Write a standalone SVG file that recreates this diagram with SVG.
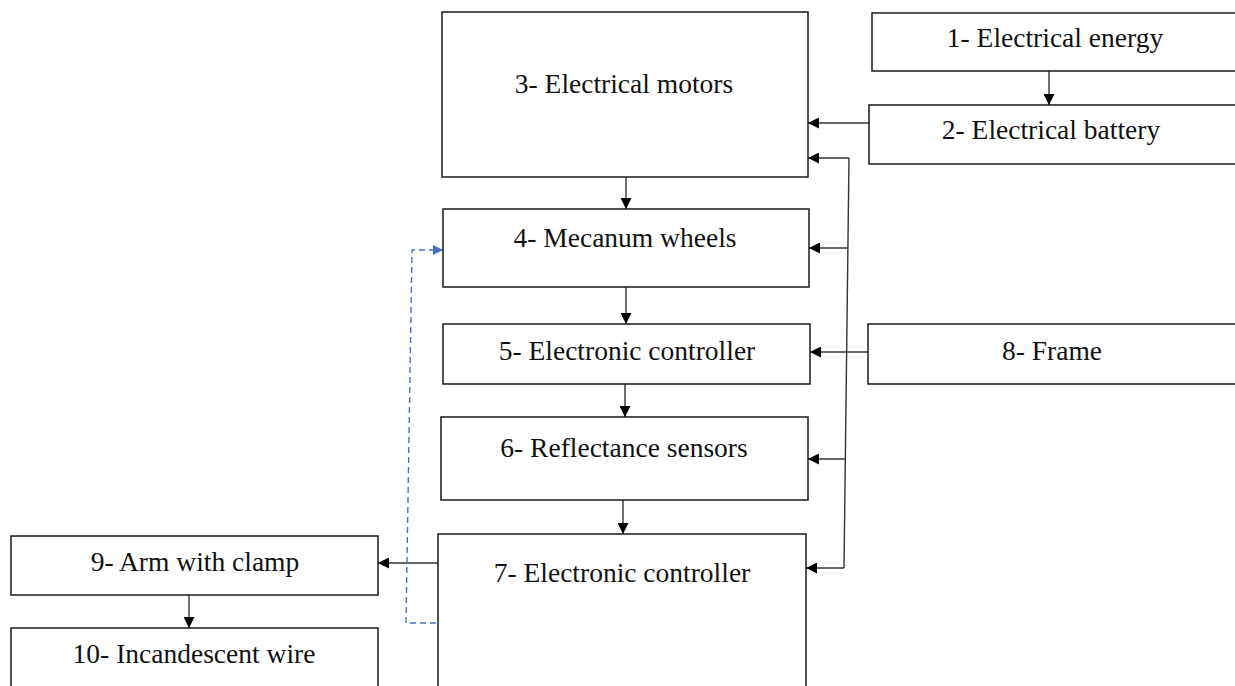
<svg xmlns="http://www.w3.org/2000/svg" width="1235" height="686" viewBox="0 0 1235 686">
<defs>
<style>
.box{fill:#fff;stroke:#1a1a1a;stroke-width:1.5}
.lbl{font-size:27.5px;fill:#111;text-anchor:middle}
.con{fill:none;stroke:#333;stroke-width:1.4}
.dash{fill:none;stroke:#4472C4;stroke-width:1.4;stroke-dasharray:6,4}
</style>
<marker id="ah" viewBox="0 0 10 10" refX="10" refY="5" markerWidth="12" markerHeight="11" markerUnits="userSpaceOnUse" orient="auto"><path d="M0,0 L10,5 L0,10 z" fill="#000"/></marker>
<marker id="ahb" viewBox="0 0 10 10" refX="10" refY="5" markerWidth="11" markerHeight="10" markerUnits="userSpaceOnUse" orient="auto"><path d="M0,0 L10,5 L0,10 z" fill="#4472C4"/></marker>
</defs>
<rect width="1235" height="686" fill="#fff"/>
<g id="connectors">
<line class="con" x1="1049" y1="71" x2="1049" y2="105" marker-end="url(#ah)"/>
<line class="con" x1="869" y1="123" x2="808" y2="123" marker-end="url(#ah)"/>
<line class="con" x1="849" y1="158" x2="844" y2="568"/>
<line class="con" x1="849" y1="158" x2="808" y2="158" marker-end="url(#ah)"/>
<line class="con" x1="848" y1="248" x2="809" y2="248" marker-end="url(#ah)"/>
<line class="con" x1="868" y1="352" x2="810" y2="352" marker-end="url(#ah)"/>
<line class="con" x1="845.3" y1="459" x2="808" y2="459" marker-end="url(#ah)"/>
<line class="con" x1="844" y1="568" x2="806" y2="568" marker-end="url(#ah)"/>
<line class="con" x1="626" y1="177" x2="626" y2="209" marker-end="url(#ah)"/>
<line class="con" x1="626" y1="287" x2="626" y2="324" marker-end="url(#ah)"/>
<line class="con" x1="625" y1="384" x2="625" y2="417" marker-end="url(#ah)"/>
<line class="con" x1="623" y1="500" x2="623" y2="534" marker-end="url(#ah)"/>
<line class="con" x1="438" y1="563" x2="378" y2="563" marker-end="url(#ah)"/>
<line class="con" x1="189" y1="595" x2="189" y2="628" marker-end="url(#ah)"/>
<path class="dash" d="M436,623 L406,623 L412,250 L443,250" marker-end="url(#ahb)"/>
</g>
<g font-family="Liberation Serif, serif">
<g id="n1"><rect class="box" x="872" y="13" width="366" height="58"/><text class="lbl" x="1055" y="47">1- Electrical energy</text></g>
<g id="n2"><rect class="box" x="869" y="105" width="369" height="59"/><text class="lbl" x="1051" y="139">2- Electrical battery</text></g>
<g id="n3"><rect class="box" x="442" y="12" width="366" height="165"/><text class="lbl" x="624" y="93">3- Electrical motors</text></g>
<g id="n4"><rect class="box" x="443" y="209" width="366" height="78"/><text class="lbl" x="625" y="247">4- Mecanum wheels</text></g>
<g id="n5"><rect class="box" x="443" y="324" width="367" height="60"/><text class="lbl" x="627" y="360">5- Electronic controller</text></g>
<g id="n6"><rect class="box" x="441" y="417" width="367" height="83"/><text class="lbl" x="624" y="457">6- Reflectance sensors</text></g>
<g id="n7"><rect class="box" x="438" y="534" width="368" height="170"/><text class="lbl" x="622" y="582">7- Electronic controller</text></g>
<g id="n8"><rect class="box" x="868" y="324" width="370" height="60"/><text class="lbl" x="1052" y="360">8- Frame</text></g>
<g id="n9"><rect class="box" x="11" y="536" width="367" height="59"/><text class="lbl" x="195" y="571">9- Arm with clamp</text></g>
<g id="n10"><rect class="box" x="11" y="628" width="367" height="76"/><text class="lbl" x="194" y="663">10- Incandescent wire</text></g>
</g>
</svg>
